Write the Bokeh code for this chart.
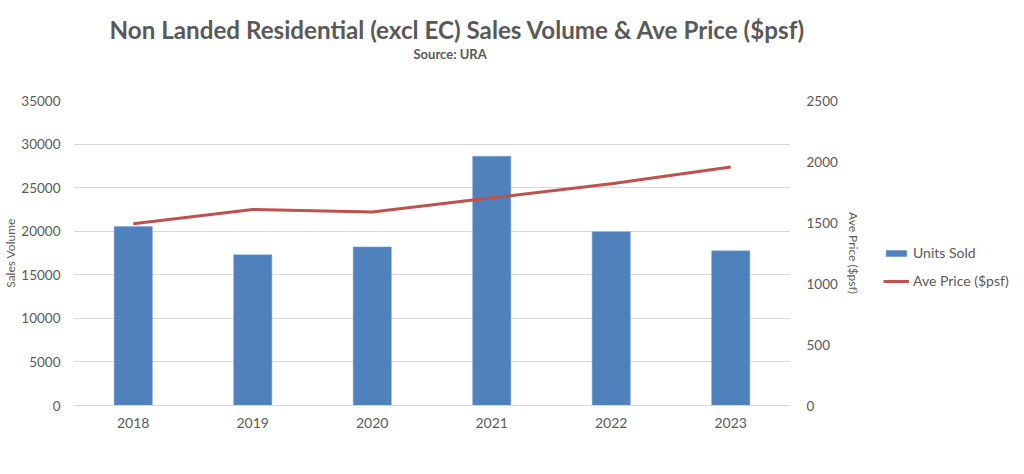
import numpy as np
from bokeh.plotting import figure
from bokeh.layouts import row
from bokeh.models import (Range1d, LinearAxis, SingleIntervalTicker, Legend, LegendItem,
                          Title, ColumnDataSource, FactorRange)
from bokeh.embed import file_html
from bokeh.resources import INLINE

years = ["2018", "2019", "2020", "2021", "2022", "2023"]
units_sold = [20550, 17300, 18200, 28600, 19950, 17750]
ave_price = [1490, 1607, 1587, 1702, 1817, 1955]

title_text = "Non Landed Residential (excl EC) Sales Volume & Ave Price ($psf)"
subtitle_text = "Source: URA"
series_names = ["Units Sold", "Ave Price ($psf)"]

FONT = "Lato"
GREY = "#595959"
BLUE = "#4f81bd"
RED = "#c0504d"

src = ColumnDataSource(dict(year=years, units=units_sold, price=ave_price))

p = figure(width=870, height=466, x_range=FactorRange(*years, range_padding=0),
           y_range=Range1d(0, 35000), output_backend="svg", toolbar_location=None,
           title=None, min_border_left=72, min_border_right=80,
           min_border_top=100, min_border_bottom=61)
p.x_range.factor_padding = 0
p.outline_line_color = None

p.extra_y_ranges = {"price": Range1d(0, 2500)}

p.vbar(x="year", top="units", width=0.32, source=src, fill_color=BLUE,
       line_color="#7fa6d6", line_width=0.5)
p.line(x="year", y="price", source=src, y_range_name="price",
       line_color=RED, line_width=3)

p.yaxis.ticker = SingleIntervalTicker(interval=5000)
p.yaxis.axis_label = "Sales Volume"

right = LinearAxis(y_range_name="price", ticker=SingleIntervalTicker(interval=500),
                   axis_label="Ave Price ($psf)")
p.add_layout(right, "right")

for ax in [p.yaxis[0], right]:
    ax.axis_line_color = None
    ax.major_tick_line_color = None
    ax.minor_tick_line_color = None
    ax.major_tick_out = 0
    ax.major_tick_in = 0
    ax.minor_tick_out = 0
    ax.minor_tick_in = 0
    ax.major_label_text_font = FONT
    ax.major_label_text_font_size = "13.5px"
    ax.major_label_text_color = GREY
    ax.axis_label_text_font = FONT
    ax.axis_label_text_font_size = "12px"
    ax.axis_label_text_color = GREY
    ax.axis_label_text_font_style = "normal"

p.yaxis[0].major_label_standoff = 13
p.yaxis[0].axis_label_standoff = 0
right.major_label_standoff = 16
right.axis_label_standoff = 5

p.xaxis.axis_line_color = "#d9d9d9"
p.xaxis.major_tick_line_color = None
p.xaxis.minor_tick_line_color = None
p.xaxis.major_tick_out = 0
p.xaxis.major_tick_in = 0
p.xaxis.major_label_text_font = FONT
p.xaxis.major_label_text_font_size = "14px"
p.xaxis.major_label_text_color = GREY
p.xaxis.major_label_standoff = 12

p.xgrid.grid_line_color = None
p.ygrid.grid_line_color = "#d9d9d9"
p.ygrid.ticker = SingleIntervalTicker(interval=5000)

sub = Title(text=subtitle_text, align="left", text_font=FONT, text_font_size="13px",
            text_font_style="bold", text_color=GREY, standoff=77, offset=340)
p.add_layout(sub, "above")
main = Title(text=title_text, align="left", text_font=FONT, text_font_size="24.2px",
             text_font_style="bold", text_color=GREY, standoff=-77, offset=36)
p.add_layout(main, "above")

# legend panel (separate figure to the right of the chart); proxies hold no visible data
p2 = figure(width=146, height=466, output_backend="svg", toolbar_location=None,
            min_border=0, x_axis_type=None, y_axis_type=None,
            x_range=Range1d(0, 1), y_range=Range1d(0, 1))
p2.outline_line_color = None
p2.grid.visible = False
nan = np.array([np.nan])
lg_bar = p2.vbar(x=nan, top=nan, width=0.5, fill_color=BLUE, line_color="#7fa6d6",
                 line_width=0.5)
lg_line = p2.line(x=nan, y=nan, line_color=RED, line_width=3)

legend = Legend(items=[LegendItem(label=series_names[0], renderers=[lg_bar]),
                       LegendItem(label=series_names[1], renderers=[lg_line])],
                location=(13, 116), border_line_color=None, background_fill_alpha=0,
                padding=0, margin=0, spacing=11, glyph_width=26, glyph_height=8,
                label_standoff=4, label_text_font=FONT, label_text_font_size="14px",
                label_text_color=GREY)
p2.add_layout(legend, "center")

open("out.html", "w").write(file_html(row(p, p2), INLINE))
